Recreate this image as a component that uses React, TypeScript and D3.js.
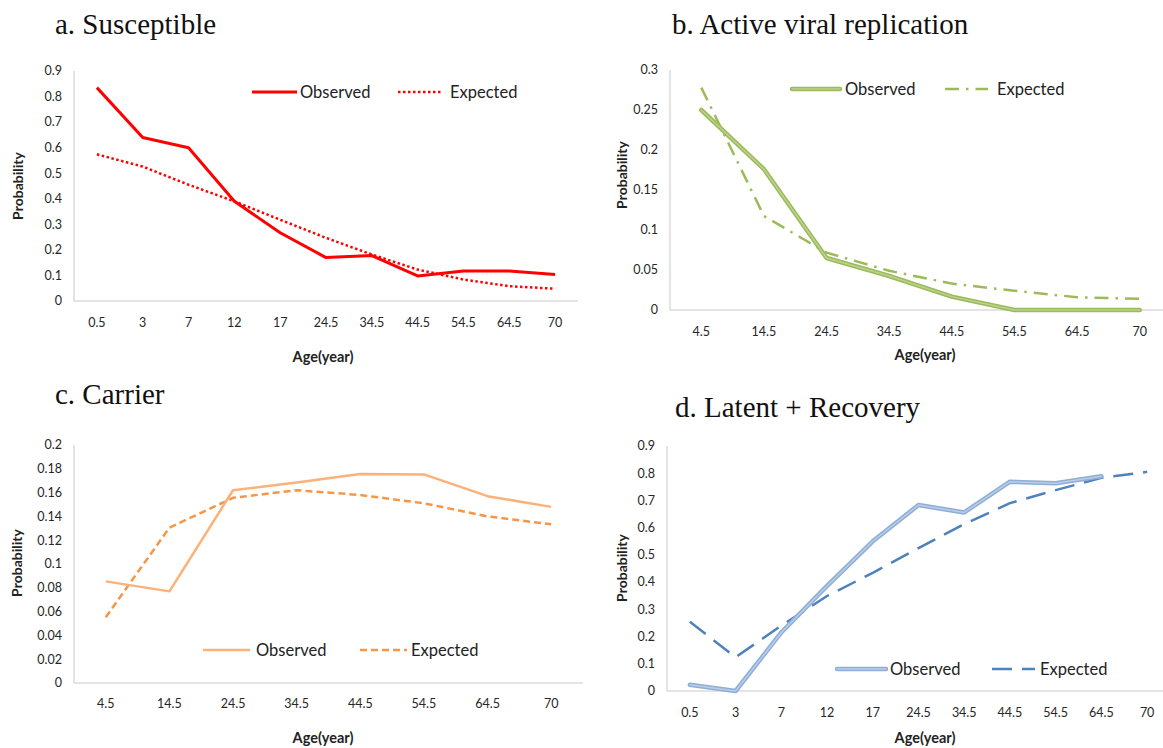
import React, { useRef, useEffect } from "react";
import * as d3 from "d3";

// age groups on the x axis
const agesFine = ["0.5", "3", "7", "12", "17", "24.5", "34.5", "44.5", "54.5", "64.5", "70"];
const agesCoarse = ["4.5", "14.5", "24.5", "34.5", "44.5", "54.5", "64.5", "70"];

// y tick labels
const ticksTenths = [0, 0.1, 0.2, 0.3, 0.4, 0.5, 0.6, 0.7, 0.8, 0.9];
const ticksViral = [0, 0.05, 0.1, 0.15, 0.2, 0.25, 0.3];
const ticksCarrier = [0, 0.02, 0.04, 0.06, 0.08, 0.1, 0.12, 0.14, 0.16, 0.18, 0.2];

// a. Susceptible
const susObserved = [0.835, 0.64, 0.6, 0.39, 0.267, 0.17, 0.178, 0.098, 0.117, 0.117, 0.104];
const susExpected = [0.574, 0.526, 0.455, 0.39, 0.318, 0.247, 0.182, 0.123, 0.084, 0.058, 0.048];

// b. Active viral replication
const viralObserved = [0.25, 0.176, 0.065, 0.0425, 0.0167, 0, 0, 0];
const viralExpected = [0.278, 0.1175, 0.0717, 0.049, 0.033, 0.024, 0.016, 0.014];

// c. Carrier
const carrierObserved = [0.0854, 0.077, 0.162, 0.1685, 0.1756, 0.1753, 0.157, 0.148];
const carrierExpected = [0.0553, 0.1306, 0.1556, 0.162, 0.158, 0.151, 0.14, 0.1334];

// d. Latent + Recovery (no observed value for 70)
const latentObserved = [0.023, 0, 0.215, 0.386, 0.55, 0.683, 0.656, 0.769, 0.763, 0.789, null];
const latentExpected = [0.254, 0.124, 0.24, 0.349, 0.434, 0.525, 0.613, 0.69, 0.738, 0.783, 0.805];

const SANS = "Lato, 'Open Sans', sans-serif";

const panels = [
  {
    title: "a. Susceptible", titleX: 55, titleY: 34,
    cats: agesFine, obs: susObserved, exp: susExpected, ticks: ticksTenths, yMax: 0.9,
    x0: 74, x1: 578, yB: 301, yT: 71, xLabelY: 323,
    axisTitle: [323, 357], probTitle: [18, 186],
    obsStyle: { kind: "solid", color: "#ff0000", width: 3 },
    expStyle: { kind: "dash", color: "#ff0000", width: 2.5, dash: "2.5,2.5" },
    legend: { y: 92, obs: [252, 297, 300], exp: [398, 442, 450] },
  },
  {
    title: "b. Active viral replication", titleX: 672, titleY: 34,
    cats: agesCoarse, obs: viralObserved, exp: viralExpected, ticks: ticksViral, yMax: 0.3,
    x0: 670, x1: 1171, yB: 310, yT: 70, xLabelY: 332,
    axisTitle: [925, 355], probTitle: [622, 175],
    obsStyle: { kind: "double", color: "#9bbb59", inner: "#bcd28f", width: 4.5 },
    expStyle: { kind: "dash", color: "#9bbb59", width: 2.5, dash: "14,7,2.5,7" },
    legend: { y: 89, obs: [792, 840, 845], exp: [945, 988, 997] },
  },
  {
    title: "c. Carrier", titleX: 55, titleY: 404,
    cats: agesCoarse, obs: carrierObserved, exp: carrierExpected, ticks: ticksCarrier, yMax: 0.2,
    x0: 74, x1: 583, yB: 683, yT: 445, xLabelY: 704,
    axisTitle: [323, 738], probTitle: [17, 563],
    obsStyle: { kind: "solid", color: "#fab27a", width: 2.5 },
    expStyle: { kind: "dash", color: "#f79646", width: 2.5, dash: "7,4" },
    legend: { y: 650, obs: [203, 250, 256], exp: [360, 407, 411] },
  },
  {
    title: "d. Latent + Recovery", titleX: 675, titleY: 417,
    cats: agesFine, obs: latentObserved, exp: latentExpected, ticks: ticksTenths, yMax: 0.9,
    x0: 667, x1: 1170, yB: 691, yT: 446, xLabelY: 713,
    axisTitle: [925, 738], probTitle: [622, 568],
    obsStyle: { kind: "double", color: "#8eaed6", inner: "#b9cde8", width: 4.5 },
    expStyle: { kind: "dash", color: "#4f81bd", width: 2.5, dash: "20,10" },
    legend: { y: 669, obs: [837, 886, 890], exp: [992, 1035, 1040] },
  },
];

function strokePath(g, d, style) {
  if (style.kind === "double") {
    g.append("path").attr("d", d).attr("fill", "none")
      .attr("stroke", style.color).attr("stroke-width", style.width)
      .attr("stroke-linejoin", "round").attr("stroke-linecap", "round");
    g.append("path").attr("d", d).attr("fill", "none")
      .attr("stroke", style.inner).attr("stroke-width", 1.5)
      .attr("stroke-linejoin", "round").attr("stroke-linecap", "round");
    return;
  }
  const p = g.append("path").attr("d", d).attr("fill", "none")
    .attr("stroke", style.color).attr("stroke-width", style.width)
    .attr("stroke-linejoin", "round");
  if (style.dash) p.attr("stroke-dasharray", style.dash);
}

const App = () => {
  const svgRef = useRef();

  useEffect(() => {
    const svg = d3.select(svgRef.current);
    svg.selectAll("*").remove();

    panels.forEach((p) => {
      const g = svg.append("g");

      const x = d3.scaleBand().domain(p.cats).range([p.x0, p.x1]);
      const y = d3.scaleLinear().domain([0, p.yMax]).range([p.yB, p.yT]);

      // panel title
      g.append("text")
        .attr("x", p.titleX).attr("y", p.titleY)
        .attr("font-family", "'Liberation Serif', 'Times New Roman', serif")
        .attr("font-size", 29).attr("fill", "#111")
        .text(p.title);

      // axes lines
      g.append("line")
        .attr("x1", p.x0).attr("x2", p.x0).attr("y1", y(p.yMax)).attr("y2", p.yB)
        .attr("stroke", "#c8c8c8").attr("stroke-width", 1);
      g.append("line")
        .attr("x1", p.x0).attr("x2", p.x1).attr("y1", p.yB).attr("y2", p.yB)
        .attr("stroke", "#c8c8c8").attr("stroke-width", 1);

      // y tick labels
      g.selectAll(".ytick").data(p.ticks).enter().append("text")
        .attr("x", p.x0 - 12).attr("y", (d) => y(d))
        .attr("dy", "0.35em").attr("text-anchor", "end")
        .attr("font-family", SANS).attr("font-size", 12.5).attr("fill", "#262626")
        .text((d) => String(+d.toFixed(2)));

      // x tick labels
      g.selectAll(".xtick").data(p.cats).enter().append("text")
        .attr("x", (d) => x(d) + x.bandwidth() / 2).attr("y", p.xLabelY)
        .attr("dy", "0.35em").attr("text-anchor", "middle")
        .attr("font-family", SANS).attr("font-size", 12.5).attr("fill", "#262626")
        .text((d) => d);

      // axis titles
      g.append("text")
        .attr("x", p.axisTitle[0]).attr("y", p.axisTitle[1]).attr("dy", "0.35em")
        .attr("text-anchor", "middle").attr("font-family", SANS)
        .attr("font-weight", "bold").attr("font-size", 14.5).attr("fill", "#222")
        .text("Age(year)");
      g.append("text")
        .attr("transform", `translate(${p.probTitle[0]}, ${p.probTitle[1]}) rotate(-90)`)
        .attr("dy", "0.35em").attr("text-anchor", "middle").attr("font-family", SANS)
        .attr("font-weight", "bold").attr("font-size", 14).attr("fill", "#222")
        .text("Probability");

      const line = d3.line()
        .defined((d) => d != null)
        .x((d, i) => x(p.cats[i]) + x.bandwidth() / 2)
        .y((d) => y(d));

      strokePath(g, line(p.exp), p.expStyle);
      strokePath(g, line(p.obs), p.obsStyle);

      // legend
      const lg = p.legend;
      strokePath(g, `M${lg.obs[0]},${lg.y}L${lg.obs[1]},${lg.y}`, p.obsStyle);
      strokePath(g, `M${lg.exp[0]},${lg.y}L${lg.exp[1]},${lg.y}`, p.expStyle);
      g.append("text").attr("x", lg.obs[2]).attr("y", lg.y).attr("dy", "0.35em")
        .attr("font-family", SANS).attr("font-size", 16.5).attr("fill", "#222")
        .text("Observed");
      g.append("text").attr("x", lg.exp[2]).attr("y", lg.y).attr("dy", "0.35em")
        .attr("font-family", SANS).attr("font-size", 16.5).attr("fill", "#222")
        .text("Expected");
    });
  }, []);

  return (
    <svg
      ref={svgRef}
      width={1163}
      height={748}
      style={{ position: "absolute", left: 0, top: 0, background: "#fff" }}
    ></svg>
  );
};

export default App;
